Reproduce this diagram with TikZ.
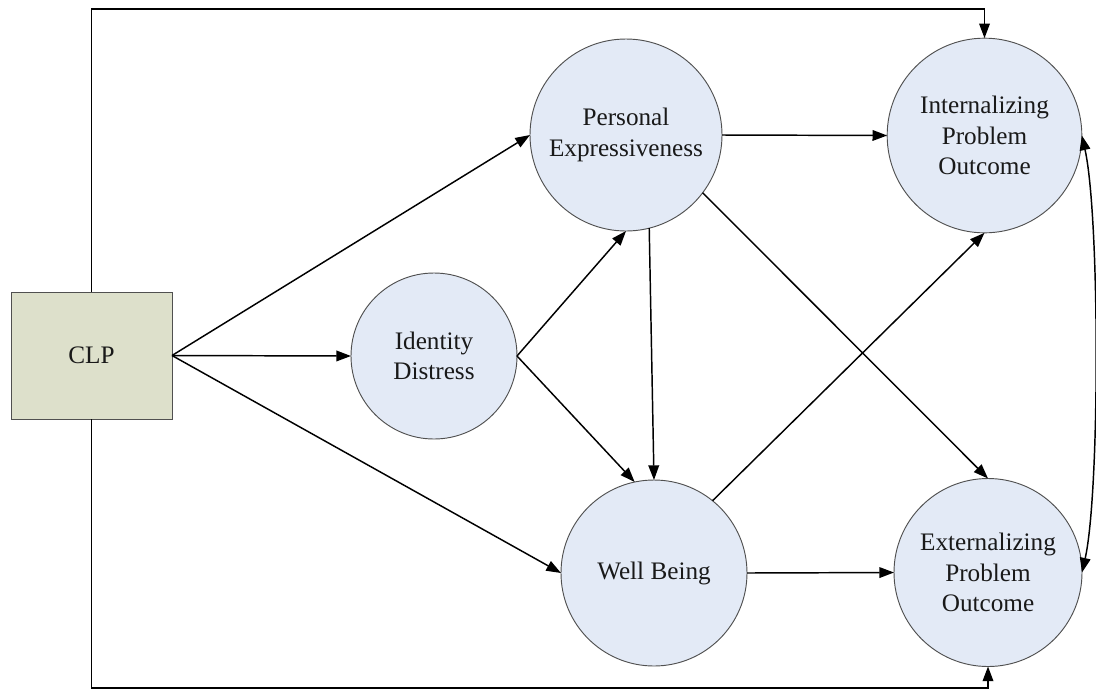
\documentclass[tikz,border=0pt]{standalone}
\usepackage{fontspec}
\setmainfont{Liberation Serif}
\usetikzlibrary{arrows.meta}
\definecolor{circfill}{RGB}{227,234,246}
\definecolor{boxfill}{RGB}{221,224,203}
\definecolor{edgegray}{RGB}{80,80,80}
\definecolor{inktext}{RGB}{25,25,25}
\begin{document}
\begin{tikzpicture}[x=0.75pt,y=-0.75pt,
  latent/.style={circle,draw=edgegray,line width=0.7pt,fill=circfill,
    inner sep=0pt,outer sep=0pt,align=center,text=inktext,
    font=\fontsize{18.9}{22.8}\selectfont},
  observed/.style={rectangle,draw=edgegray,line width=0.7pt,fill=boxfill,
    inner sep=0pt,outer sep=0pt,minimum width=120.75pt,minimum height=95.25pt,
    text=inktext,font=\fontsize{18.9}{22.8}\selectfont},
  tip/.style={Triangle[length=11pt,width=8pt]},
  path/.style={line width=1.1pt,-{Triangle[length=11pt,width=8pt]}},
  covpath/.style={line width=1.1pt,{Triangle[length=11pt,width=8pt]}-{Triangle[length=11pt,width=8pt]}}
]
\useasboundingbox (0,0) rectangle (1096,690);

% variables
\node[observed] (clp) at (91.5,355.5) {CLP};
\node[latent,minimum size=144pt] (pe) at (626,135) {Personal\\Expressiveness};
\node[latent,minimum size=146pt] (int) at (984.5,135.5) {Internalizing\\Problem\\Outcome};
\node[latent,minimum size=124.5pt] (id) at (434,356) {Identity\\Distress};
\node[latent,minimum size=139.5pt] (wb) at (654,573) {Well Being};
\node[latent,minimum size=141pt] (ext) at (988,572.5) {Externalizing\\Problem\\Outcome};

% routing levels for the direct paths
\coordinate (topy) at (0,9);
\coordinate (boty) at (0,688);

% paths from CLP
\draw[path] (clp.east) -- (pe.west);
\draw[path] (clp.east) -- (id.west);
\draw[path] (clp.east) -- (wb.west);
\draw[path] (clp.north) -- (clp.north |- topy) -| (int.north);
\draw[path] (clp.south) -- (clp.south |- boty) -| (ext.south);

% mediators
\draw[path] (id.east) -- (pe.south);
\draw[path] (id.east) -- (wb.102);
\draw[path] (pe.-76) -- (wb.north);
\draw[path] (pe.east) -- (int.west);
\draw[path] (pe.-37) -- (ext.north);
\draw[path] (wb.51) -- (int.south);
\draw[path] (wb.east) -- (ext.west);

% residual covariance of the outcomes
\draw[covpath] (int.east) .. controls +(18,80) and +(18,-80) .. (ext.east);
\end{tikzpicture}
\end{document}
